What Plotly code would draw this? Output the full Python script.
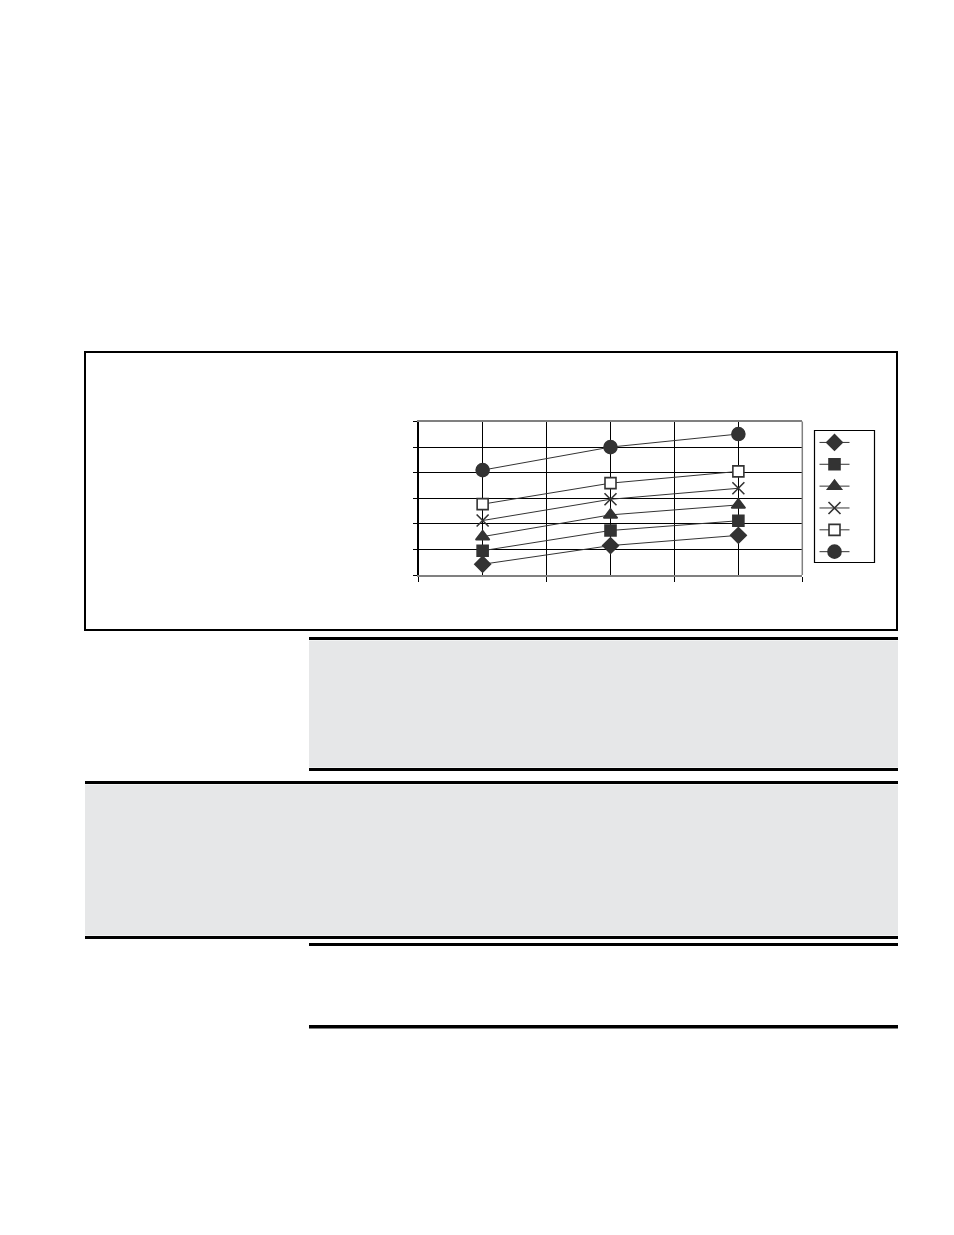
import plotly.graph_objects as go

# page body has an 8px margin, so the figure is drawn slightly smaller
OFF = 8
W, H = 946, 1227

# ---- data ----
categories = [1, 3, 5]
series_names = ["\u00a0\u00a0\u00a0"] * 6
s_diamond = [0.42, 1.15, 1.55]
s_square = [0.95, 1.74, 2.12]
s_triangle = [1.50, 2.35, 2.74]
s_cross = [2.13, 2.96, 3.39]
s_open_square = [2.77, 3.59, 4.05]
s_circle = [4.10, 5.00, 5.51]

series = [s_diamond, s_square, s_triangle, s_cross, s_open_square, s_circle]
symbols = ["diamond", "square", "triangle-up", "x-thin", "square", "circle"]
sizes = [12, 11, 12, 12, 11, 13]
ink = "#333333"
fills = [ink, ink, ink, ink, "white", ink]

fig = go.Figure()
for name, vals, sym, sz, fc in zip(series_names, series, symbols, sizes, fills):
    fig.add_trace(go.Scatter(
        x=categories, y=vals, mode="lines+markers", name=name,
        line=dict(color=ink, width=1),
        marker=dict(symbol=sym, size=sz, color=fc,
                    line=dict(color=ink, width=1.6)),
    ))

def px(x):
    return (x - OFF) / W

def py(y):
    return 1 - (y - OFF) / H

shapes = []

def rect(x0, y0, x1, y1, fill=None, lw=0, lc="black"):
    shapes.append(dict(type="rect", xref="paper", yref="paper",
                       x0=px(x0), x1=px(x1), y0=py(y1), y1=py(y0),
                       fillcolor=fill if fill else "rgba(0,0,0,0)",
                       line=dict(width=lw, color=lc), layer="below"))

# outer chart frame
rect(85, 352, 897, 630, lw=2)
# legend frame
rect(814.5, 430.5, 874.5, 562.5, lw=1.2)
# band 1
rect(309, 637, 898, 640, fill="black")
rect(309, 640.5, 898, 767.5, fill="#e6e7e8")
rect(309, 768, 898, 771, fill="black")
# band 2
rect(85, 781, 898, 784, fill="black")
rect(85, 784.5, 898, 935.5, fill="#e6e7e8")
rect(85, 936, 898, 939, fill="black")
# rules
rect(309, 943, 898, 946, fill="black")
rect(309, 1025, 898, 1028.5, fill="black")

# right edge of plot area (gray)
shapes.append(dict(type="line", xref="x domain", yref="y domain",
                   x0=1, x1=1, y0=0, y1=1, line=dict(color="#808080", width=1.5)))

fig.update_layout(
    width=W, height=H, margin=dict(l=0, r=0, t=0, b=0),
    paper_bgcolor="white", plot_bgcolor="white",
    shapes=shapes,
    showlegend=True,
    legend=dict(x=px(814.5), y=py(497.5), xanchor="left", yanchor="middle",
                borderwidth=0, bgcolor="rgba(0,0,0,0)",
                font=dict(size=14.5, color="black"), itemwidth=30,
                tracegroupgap=0),
    xaxis=dict(domain=[px(418.7), px(802.3)], range=[0, 6],
               showgrid=True, gridcolor="black", gridwidth=1, dtick=2, tick0=0,
               ticks="outside", ticklen=5, tickcolor="black", tickwidth=1,
               showticklabels=False, zeroline=False,
               showline=True, linecolor="#808080", linewidth=1.5, mirror=True,
               minor=dict(dtick=1, showgrid=True, gridcolor="black", gridwidth=1, ticks="")),
    yaxis=dict(domain=[py(575), py(421.5)], range=[0, 6],
               showgrid=True, gridcolor="black", gridwidth=1, dtick=1, tick0=0,
               ticks="outside", ticklen=4, tickcolor="black", tickwidth=1,
               showticklabels=False, zeroline=False,
               showline=True, linecolor="black", linewidth=1.5),
)

fig.write_html("out.html")
